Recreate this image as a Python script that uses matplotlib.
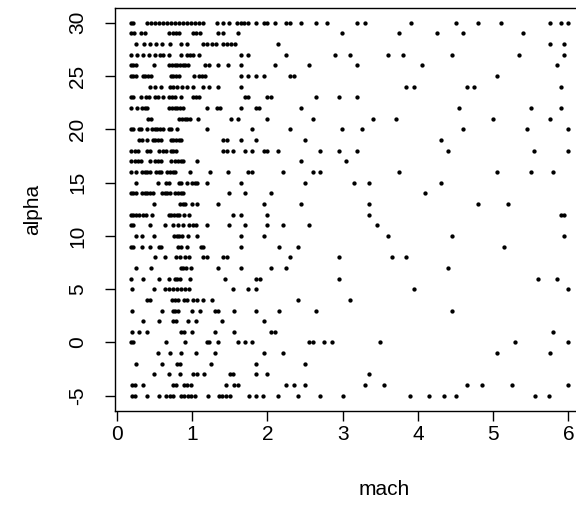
import matplotlib
matplotlib.use("Agg")
import matplotlib.pyplot as plt

# mach values per alpha row
mach_a30 = [0.185, 0.22, 0.397, 0.45, 0.504, 0.557, 0.61, 0.663, 0.716, 0.769, 0.823, 0.876, 0.929,
            0.982, 1.035, 1.088, 1.142, 1.336, 1.416, 1.496, 1.60, 1.651, 1.695, 1.748, 1.855, 1.952,
            1.996, 2.103, 2.244, 2.298, 2.448, 2.648, 2.798, 3.197, 3.299, 3.905, 4.503, 4.80, 5.101,
            5.752, 5.898, 5.999]
mach_a29 = [0.185, 0.229, 0.318, 0.371, 0.699, 0.743, 0.787, 0.831, 1.009, 1.053, 1.106, 1.345, 1.407,
            1.606, 2.997, 3.751, 4.25, 4.605, 5.402]
mach_a28 = [0.256, 0.362, 0.442, 0.521, 0.601, 0.707, 0.849, 0.929, 1.142, 1.195, 1.261, 1.319, 1.416,
            1.469, 1.523, 1.57, 2.147, 5.752, 5.947]
mach_a27 = [0.185, 0.264, 0.344, 0.424, 0.504, 0.575, 0.61, 0.699, 0.858, 0.929, 0.973, 1.018, 1.088,
            1.651, 1.748, 2.249, 2.900, 3.099, 3.600, 3.799, 4.450, 5.349, 5.947]
mach_a26 = [0.185, 0.22, 0.256, 0.495, 0.699, 0.734, 0.769, 0.805, 0.84, 0.876, 0.911, 0.947, 1.173,
            1.221, 1.35, 1.483, 1.651, 2.103, 2.554, 3.197, 4.051, 5.850]
mach_a25 = [0.185, 0.22, 0.256, 0.344, 0.38, 0.415, 0.45, 0.716, 0.752, 0.787, 0.823, 1.026, 1.097,
            1.133, 1.168, 1.651, 1.748, 1.855, 1.952, 2.302, 2.355, 5.048]
mach_a24 = [0.442, 0.512, 0.583, 0.707, 0.752, 0.796, 0.862, 0.938, 1.018, 1.15, 1.221, 1.35, 1.651,
            3.843, 3.949, 4.649, 4.746, 5.898]
mach_a23 = [0.185, 0.22, 0.318, 0.388, 0.433, 0.508, 0.552, 0.619, 0.69, 0.734, 0.778, 0.858, 1.009,
            1.053, 1.097, 1.704, 1.748, 1.996, 2.049, 2.648, 2.953, 3.197]
mach_a22 = [0.185, 0.264, 0.335, 0.371, 0.406, 0.699, 0.734, 0.769, 0.805, 0.84, 0.876, 1.195, 1.336,
            1.372, 1.651, 1.855, 1.89, 2.448, 4.551, 5.499, 5.898]
mach_a21 = [0.415, 0.45, 0.831, 0.867, 0.902, 0.938, 0.973, 1.08, 1.514, 1.606, 2.001, 2.603, 3.40,
            3.706, 5.003, 5.752]
mach_a20 = [0.185, 0.22, 0.291, 0.326, 0.397, 0.468, 0.504, 0.539, 0.575, 0.61, 0.69, 0.725, 0.796,
            1.195, 1.801, 2.302, 2.997, 3.254, 4.605, 5.446, 6.0]
mach_a19 = [0.3, 0.335, 0.406, 0.477, 0.512, 0.548, 0.583, 0.716, 0.752, 0.787, 0.823, 0.858, 1.416,
            1.461, 1.651, 1.855, 2.501, 4.303]
mach_a18 = [0.185, 0.247, 0.282, 0.406, 0.442, 0.566, 0.619, 0.654, 0.716, 0.752, 0.787, 1.416, 1.461,
            1.549, 1.704, 1.801, 1.952, 2.001, 2.147, 2.701, 2.953, 3.197, 4.405, 5.548, 6.0]
mach_a17 = [0.185, 0.247, 0.282, 0.318, 0.442, 0.512, 0.548, 0.583, 0.716, 0.778, 0.814, 0.849, 0.885,
            1.071, 2.448, 3.05]
mach_a16 = [0.185, 0.256, 0.335, 0.371, 0.406, 0.442, 0.521, 0.557, 0.592, 0.672, 0.707, 0.743, 0.778,
            0.973, 1.239, 1.483, 1.748, 1.801, 2.204, 2.603, 2.705, 3.751, 5.048, 5.499, 5.80]
mach_a15 = [0.256, 0.552, 0.654, 0.699, 0.823, 0.858, 0.929, 1.0, 1.035, 1.071, 1.195, 1.651, 2.501,
            3.152, 3.352, 4.303]
mach_a14 = [0.185, 0.22, 0.256, 0.335, 0.371, 0.406, 0.442, 0.477, 0.601, 0.637, 0.672, 0.707, 0.778,
            0.814, 0.849, 0.885, 1.496, 1.704, 2.049, 4.10]
mach_a13 = [0.499, 0.84, 0.876, 0.911, 0.995, 1.071, 1.35, 1.952, 2.448, 3.352, 4.80, 5.198]
mach_a12 = [0.185, 0.22, 0.256, 0.291, 0.353, 0.388, 0.464, 0.69, 0.725, 0.761, 0.796, 0.831, 0.893,
            0.964, 1.549, 1.651, 2.001, 3.352, 5.898, 5.942]
mach_a11 = [0.185, 0.22, 0.442, 0.645, 0.743, 0.814, 0.885, 0.955, 1.018, 1.053, 1.195, 1.496, 1.704,
            2.001, 2.204, 2.554, 3.454]
mach_a10 = [0.256, 0.335, 0.499, 0.761, 0.796, 0.831, 0.867, 0.951, 1.071, 1.651, 1.952, 3.60, 4.45,
            5.947]
mach_a9 = [0.185, 0.22, 0.335, 0.442, 0.557, 0.592, 0.814, 0.849, 0.938, 1.115, 1.15, 1.651, 2.151,
           2.404, 5.15]
mach_a8 = [0.508, 0.641, 0.787, 0.84, 0.911, 0.955, 1.15, 1.204, 1.416, 1.461, 2.302, 2.958, 3.653, 3.843]
mach_a7 = [0.256, 0.45, 0.849, 0.885, 0.92, 0.991, 1.35, 1.651, 2.054, 2.249, 4.40]
mach_a6 = [0.185, 0.353, 0.557, 0.699, 0.769, 0.805, 0.84, 0.973, 1.443, 1.855, 1.899, 2.958, 5.601, 5.85]
mach_a5 = [0.198, 0.499, 0.641, 0.694, 0.747, 0.80, 0.854, 0.907, 0.96, 1.549, 1.748, 1.855, 3.949, 6.0]
mach_a4 = [0.397, 0.442, 0.738, 0.774, 0.809, 0.893, 0.929, 1.018, 1.062, 1.15, 1.261, 2.404, 3.099]
mach_a3 = [0.198, 0.601, 0.743, 0.778, 0.814, 0.995, 1.106, 1.305, 1.35, 1.558, 1.855, 2.151, 2.652, 4.45]
mach_a2 = [0.353, 0.557, 0.752, 0.787, 0.951, 1.053, 1.403, 1.952]
mach_a1 = [0.198, 0.3, 0.402, 0.854, 0.889, 0.995, 1.305, 1.558, 2.054, 2.103, 5.80]
mach_a0 = [0.185, 0.22, 0.65, 0.902, 1.195, 1.23, 1.35, 1.606, 1.704, 1.801, 2.554, 2.608, 2.754, 2.856,
           3.502, 5.296, 6.0]
mach_am1 = [0.552, 0.707, 0.854, 1.053, 1.305, 1.952, 2.204, 5.048, 5.752]
mach_am2 = [0.251, 0.601, 0.796, 0.84, 1.252, 1.855, 2.501]
mach_am3 = [0.498, 0.694, 0.840, 1.011, 1.060, 1.157, 1.499, 1.548, 1.850, 2.002, 3.354]
mach_am4 = [0.196, 0.244, 0.352, 0.743, 0.791, 0.889, 0.938, 0.986, 1.450, 1.563, 1.612, 2.246, 2.353,
            2.50, 3.296, 3.550, 4.658, 4.853, 5.249, 6.0]
mach_am5 = [0.196, 0.244, 0.400, 0.557, 0.655, 0.703, 0.743, 0.850, 0.899, 0.948, 0.986, 1.035, 1.206,
            1.353, 1.402, 1.450, 1.499, 1.753, 1.850, 1.948, 2.148, 2.402, 2.705, 3.003, 3.901, 4.150,
            4.351, 4.502, 5.553, 5.748]

alpha_levels = list(range(30, -6, -1))
mach_rows = [mach_a30, mach_a29, mach_a28, mach_a27, mach_a26, mach_a25, mach_a24, mach_a23,
             mach_a22, mach_a21, mach_a20, mach_a19, mach_a18, mach_a17, mach_a16, mach_a15,
             mach_a14, mach_a13, mach_a12, mach_a11, mach_a10, mach_a9, mach_a8, mach_a7,
             mach_a6, mach_a5, mach_a4, mach_a3, mach_a2, mach_a1, mach_a0, mach_am1, mach_am2,
             mach_am3, mach_am4, mach_am5]

x_ticks = [0, 1, 2, 3, 4, 5, 6]
y_ticks = [-5, 0, 5, 10, 15, 20, 25, 30]

mach = []
alpha = []
for a, row in zip(alpha_levels, mach_rows):
    mach += row
    alpha += [a] * len(row)

plt.rcParams['font.family'] = ['Liberation Sans', 'DejaVu Sans']

fig = plt.figure(figsize=(5.76, 5.16), dpi=100)
# plot region runs past the right edge of the picture, as in the reference
ax = fig.add_axes([114.5 / 576, 1 - 410.7 / 516, (653.5 - 114.5) / 576, (410.7 - 7.8) / 516])
ax.plot(mach, alpha, 'o', color='black', markersize=3.1, markeredgewidth=0)

ax.set_xlim(-0.03, 7.13)
ax.set_ylim(-6.4, 31.4)
ax.set_xticks(x_ticks)
ax.set_yticks(y_ticks)
ax.set_xticklabels([str(t) for t in x_ticks])
ax.set_yticklabels([str(t) for t in y_ticks], rotation=90, va='center')
ax.tick_params(direction='out', length=7.5, width=1, labelsize=15)
ax.tick_params(axis='x', pad=3)
ax.tick_params(axis='y', pad=12)
for s in ax.spines.values():
    s.set_linewidth(1)
ax.set_xlabel('mach', fontsize=15, labelpad=26)
ax.set_ylabel('alpha', fontsize=15, labelpad=19)

plt.savefig('out.png', dpi=100)
